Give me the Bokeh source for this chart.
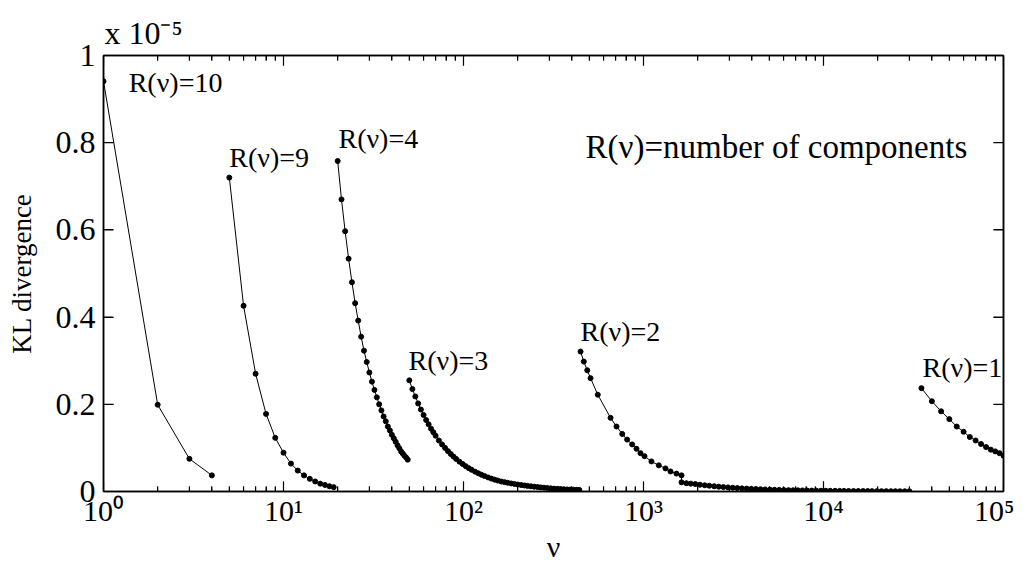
from bokeh.plotting import figure
from bokeh.models import (Range1d, LogAxis, LinearAxis, FixedTicker,
                          CustomJSTickFormatter, Label, ColumnDataSource)
from bokeh.core.properties import value
from bokeh.embed import file_html
from bokeh.resources import INLINE
import math

# ---------------- data (KL divergence in units of 1e-5) ----------------
nu_r10 = [1, 2, 3, 4]
kl_r10 = [0.941, 0.199, 0.075, 0.037]

nu_r9 = [5, 6, 7, 8, 9, 10, 11, 12, 13, 14, 15, 16, 17, 18, 19]
kl_r9 = [0.720, 0.426, 0.270, 0.178, 0.123, 0.089, 0.064, 0.048, 0.037,
         0.029, 0.023, 0.018, 0.015, 0.012, 0.010]

nu_r4 = [20, 21, 22, 23, 24, 25, 26, 27, 28, 29, 30, 31, 32, 33, 34, 35,
         36, 37, 38, 39, 40, 41, 42, 43, 44, 45, 46, 47, 48, 49]
kl_r4 = [0.758, 0.670, 0.597, 0.534, 0.480, 0.432, 0.392, 0.355, 0.323,
         0.297, 0.273, 0.252, 0.233, 0.216, 0.200, 0.186, 0.172, 0.161,
         0.149, 0.140, 0.130, 0.122, 0.114, 0.106, 0.099, 0.092, 0.087,
         0.082, 0.078, 0.073]

nu_r3 = [50, 52, 54, 56, 58, 60, 62, 64, 66, 68, 70, 73, 76, 79, 82, 85,
         88, 91, 95, 99, 103, 107, 111, 116, 121, 126, 131, 137, 143, 149,
         155, 162, 169, 176, 184, 192, 200, 209, 218, 227, 237, 247, 258,
         269, 280, 292, 305, 318, 332, 346, 361, 376, 392, 409, 426, 440]
kl_r3 = [0.255, 0.235, 0.218, 0.202, 0.188, 0.1755, 0.164, 0.154, 0.144,
         0.136, 0.128, 0.117, 0.108, 0.100, 0.0925, 0.086, 0.080, 0.0747,
         0.0684, 0.0629, 0.058, 0.0536, 0.0497, 0.0454, 0.0417, 0.0383,
         0.0354, 0.0323, 0.0296, 0.0272, 0.0251, 0.0229, 0.0215, 0.0200,
         0.0185, 0.0172, 0.0160, 0.0148, 0.0138, 0.0128, 0.0119, 0.0110,
         0.0102, 0.0094, 0.0087, 0.0080, 0.0072, 0.0066, 0.0061, 0.0056,
         0.0052, 0.0048, 0.0045, 0.0042, 0.0039, 0.0037]

nu_r2 = [447, 466, 487, 508, 557, 656, 708, 762, 811, 865, 914, 962, 1013,
         1107, 1216, 1325, 1413, 1525, 1626,
         1626, 1730, 1830, 1940, 2060, 2190, 2320, 2470, 2620, 2780, 2950,
         3130, 3320, 3520, 3740, 3970, 4210, 4470, 4740, 5040, 5340, 5670,
         6020, 6390, 6780, 7200, 7640, 8100, 8600, 9130, 9690, 10300, 10900,
         11600, 12300, 13000, 13800, 14700, 15600, 16600, 17600, 18600,
         19800, 21000, 22300, 23700, 25100, 26600, 28300, 30000]
kl_r2 = [0.321, 0.298, 0.278, 0.260, 0.222, 0.169, 0.149, 0.132, 0.119,
         0.108, 0.098, 0.088, 0.081, 0.069, 0.060, 0.053, 0.046, 0.041, 0.037,
         0.021, 0.019, 0.018, 0.017, 0.0155, 0.0143, 0.0132, 0.0121, 0.0111,
         0.0102, 0.0094, 0.0086, 0.0079, 0.0072, 0.0066, 0.0061, 0.0056,
         0.0051, 0.0047, 0.0043, 0.0040, 0.0037, 0.0034, 0.0031, 0.0029,
         0.0027, 0.0025, 0.0023, 0.0021, 0.0020, 0.0018, 0.0017, 0.0016,
         0.0015, 0.0014, 0.0013, 0.0012, 0.0011, 0.0010, 0.0010, 0.0009,
         0.0008, 0.0008, 0.0007, 0.0007, 0.0006, 0.0006, 0.0005, 0.0005,
         0.0005]

nu_r1 = [35000, 40000, 45000, 50000, 55000, 60000, 65000, 70000, 75000,
         80000, 85000, 90000, 95000, 100000]
kl_r1 = [0.237, 0.207, 0.184, 0.166, 0.149, 0.137, 0.125, 0.117, 0.109,
         0.102, 0.096, 0.092, 0.088, 0.082]

series = [(nu_r10, kl_r10), (nu_r9, kl_r9), (nu_r4, kl_r4), (nu_r3, kl_r3),
          (nu_r2, kl_r2), (nu_r1, kl_r1)]

note_text = ["R(ν)=10", "R(ν)=9", "R(ν)=4", "R(ν)=3", "R(ν)=2", "R(ν)=1"]
note_x = [1.38, 5.0, 20.2, 49.5, 447, 35500]
note_y = [0.937, 0.767, 0.809, 0.300, 0.368, 0.284]
legend_text = "R(ν)=number of components"
legend_x = 476
legend_y = 0.790

x_major = [1, 10, 100, 1000, 10000, 100000]
x_minor = [m * 10 ** k for k in range(5) for m in range(2, 10)]
y_major = [0, 0.2, 0.4, 0.6, 0.8, 1.0]
y_multiplier = "x 10⁻⁵"
x_label = "ν"
y_label = "KL divergence"

# ---------------- styling ----------------
FONT = "Liberation Serif"
TICK_FS = "32px"
XTICK_FS = "30px"
LABEL_FS = "27px"
NOTE_FS = "28px"
LEGEND_FS = "33px"
X0, X1, Y0, Y1 = 1, 1e5, 0, 1
W, H = 1014, 565
BL, BR, BT, BB = 103, 11, 55, 73
FRAME_W = W - BL - BR
FRAME_H = H - BT - BB
MAJOR_LEN, MINOR_LEN = 10, 5

p = figure(width=W, height=H, x_axis_type="log",
           x_range=Range1d(X0, X1), y_range=Range1d(Y0, Y1),
           output_backend="svg", toolbar_location=None,
           min_border_left=BL, min_border_right=BR,
           min_border_top=BT, min_border_bottom=BB)
p.grid.visible = False
p.outline_line_color = "black"
p.outline_line_width = 1.5
p.background_fill_color = "white"
p.border_fill_color = "white"

xt = FixedTicker(ticks=x_major, minor_ticks=x_minor)
yt = FixedTicker(ticks=y_major, minor_ticks=[])

sup_fmt = CustomJSTickFormatter(code="""
const s = {"0":"⁰","1":"¹","2":"²","3":"³","4":"⁴","5":"⁵","6":"⁶","7":"⁷","8":"⁸","9":"⁹","-":"⁻"};
const e = Math.round(Math.log10(tick));
return "10" + String(e).split("").map(c => s[c]).join("");
""")
y_fmt = CustomJSTickFormatter(code="""
return tick.toFixed(1).replace(/\\.0$/, "");
""")
blank_fmt = CustomJSTickFormatter(code='return " ";')
# the exponent multiplier is shown at the left end of the top axis
mult_fmt = CustomJSTickFormatter(args=dict(m=y_multiplier), code="""
return tick === 1 ? "\\u00a0".repeat(10) + m : " ";
""")

def style_axis(ax):
    ax.axis_line_color = "black"
    ax.axis_line_width = 1.5
    ax.major_tick_line_color = "black"
    ax.minor_tick_line_color = "black"
    ax.major_tick_in = MAJOR_LEN
    ax.major_tick_out = 0
    ax.minor_tick_in = MINOR_LEN
    ax.minor_tick_out = 0
    ax.major_label_text_font = FONT
    ax.major_label_text_color = "black"
    ax.major_label_text_font_size = TICK_FS
    ax.axis_label_text_font = FONT
    ax.axis_label_text_font_style = "normal"
    ax.axis_label_text_color = "black"

xa = p.xaxis[0]
xa.ticker = xt
xa.formatter = sup_fmt
style_axis(xa)
xa.major_label_text_font_size = XTICK_FS
xa.major_label_standoff = 2
xa.axis_label = x_label
xa.axis_label_text_font_size = XTICK_FS
xa.axis_label_standoff = 0

ya = p.yaxis[0]
ya.ticker = yt
ya.formatter = y_fmt
style_axis(ya)
ya.major_label_standoff = 8
ya.axis_label = y_label
ya.axis_label_text_font_size = LABEL_FS
ya.axis_label_standoff = 16

top = LogAxis(ticker=xt, formatter=mult_fmt)
style_axis(top)
top.major_label_standoff = 5
p.add_layout(top, "above")
right = LinearAxis(ticker=yt, formatter=blank_fmt)
style_axis(right)
right.major_label_text_font_size = "8px"
right.major_label_standoff = 0
p.add_layout(right, "right")

# ---- inward tick marks (MATLAB style, all sides), one short line each ----
dpp = math.log10(X1 / X0) / FRAME_W      # decades per pixel
ypp = (Y1 - Y0) / FRAME_H                # y units per pixel
tick_paths = []
for ticks, ln in ((x_major, MAJOR_LEN), (x_minor, MINOR_LEN)):
    for t in ticks:
        tick_paths.append(([t, t], [Y0, Y0 + ln * ypp]))
        tick_paths.append(([t, t], [Y1, Y1 - ln * ypp]))
fx = 10 ** (MAJOR_LEN * dpp)
for t in y_major:
    tick_paths.append(([X0, X0 * fx], [t, t]))
    tick_paths.append(([X1, X1 / fx], [t, t]))
for txs, tys in tick_paths:
    tsrc = ColumnDataSource(dict(x=txs, y=tys))
    p.line("x", "y", source=tsrc, line_color="black", line_width=1.2)

for xs, ys in series:
    src = ColumnDataSource(dict(x=xs, y=ys))
    p.line("x", "y", source=src, line_color="black", line_width=1)
    p.scatter("x", "y", source=src, size=5, fill_color="black",
              line_color="black")

nsrc = ColumnDataSource(dict(x=note_x, y=note_y, t=note_text))
p.text("x", "y", text="t", source=nsrc, text_font=value(FONT),
       text_font_size=NOTE_FS, text_baseline="middle", text_align="left",
       text_color="black")
p.add_layout(Label(x=legend_x, y=legend_y, text=legend_text,
                   text_font=FONT, text_font_size=LEGEND_FS,
                   text_baseline="middle", text_align="left",
                   text_color="black"))

open("out.html", "w").write(file_html(p, INLINE))
